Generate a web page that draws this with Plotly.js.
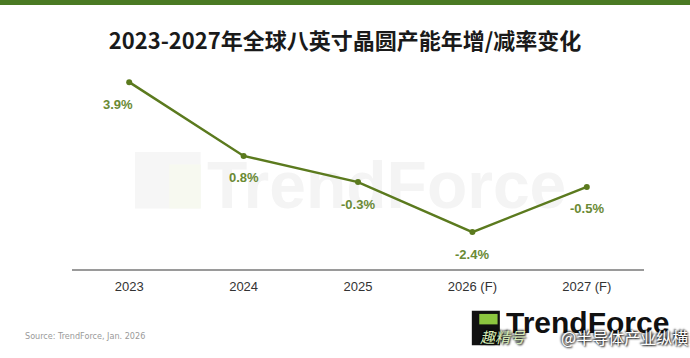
<!DOCTYPE html>
<html>
<head>
<meta charset="utf-8">
<script src="https://cdn.plot.ly/plotly-3.0.1.min.js"></script>
<style>html,body{margin:0;padding:0;background:#fff;}#chart{width:690px;height:358px;}</style>
</head>
<body>
<div id="chart"></div>
<script>
const categories = ["2023", "2024", "2025", "2026 (F)", "2027 (F)"];
const growthRate = [3.9, 0.8, -0.3, -2.4, -0.5];
const labelText = ["3.9%", "0.8%", "-0.3%", "-2.4%", "-0.5%"];
const labelXShift = [-11, 0, 0, 0, 0];

const lineColor = "#5b7a1e";
const labelColor = "#6a8a34";

const trace = {
  x: categories,
  y: growthRate,
  type: "scatter",
  mode: "lines+markers",
  line: {color: lineColor, width: 2.5},
  marker: {color: lineColor, size: 6},
  hoverinfo: "skip"
};

// category index positions (string years would be read as indices otherwise)
const annotations = categories.map((c, i) => ({
  x: i, y: growthRate[i], xref: "x", yref: "y",
  text: labelText[i], showarrow: false,
  yshift: -22, xshift: labelXShift[i],
  font: {family: "Liberation Sans, Arial, sans-serif", size: 13, color: labelColor, weight: "bold"}
}));

annotations.push({
  xref: "paper", yref: "paper", x: -0.086, y: -0.32, xanchor: "left", yanchor: "middle",
  text: "Source: TrendForce, Jan. 2026", showarrow: false,
  font: {family: "Liberation Sans Narrow, DejaVu Sans Condensed, sans-serif", size: 9, color: "#9a9a9a"}
});
annotations.push({
  xref: "paper", yref: "paper", x: 0.755, y: -0.255, xanchor: "left", yanchor: "middle",
  text: "TrendForce", showarrow: false,
  font: {family: "Liberation Sans, Arial, sans-serif", size: 30, color: "#111111", weight: "bold"}
});
annotations.push({
  xref: "paper", yref: "paper", x: 0.71, y: -0.325, xanchor: "left", yanchor: "middle",
  text: "<i>趣精号</i>", showarrow: false,
  font: {family: "Noto Sans CJK SC, sans-serif", size: 15, color: "#d8ecb8", shadow: "1px 1px 2px #000, -1px -1px 2px #000"}
});
annotations.push({
  xref: "paper", yref: "paper", x: 1.08, y: -0.325, xanchor: "right", yanchor: "middle",
  text: "@半导体产业纵横", showarrow: false,
  font: {family: "Noto Sans CJK SC, sans-serif", size: 16, color: "#ffffff", shadow: "1px 1px 2px #000, -1px -1px 2px #000"}
});

const shapes = [
  {type: "rect", xref: "paper", yref: "paper", x0: -0.2, x1: 1.2, y0: 1.263, y1: 1.3,
   fillcolor: "#4a7a23", line: {width: 0}, layer: "below"},
  {type: "rect", xref: "paper", yref: "paper", x0: 0.11, x1: 0.225, y0: 0.29, y1: 0.56,
   fillcolor: "#f6f6f6", line: {width: 0}, layer: "below"},
  {type: "rect", xref: "paper", yref: "paper", x0: 0.17, x1: 0.225, y0: 0.29, y1: 0.5,
   fillcolor: "#f7f9f0", line: {width: 0}, layer: "below"},
  {type: "rect", xref: "paper", yref: "paper", x0: 0.25, x1: 0.85, y0: 0.28, y1: 0.58,
   fillcolor: "rgba(0,0,0,0)", line: {width: 0}, layer: "below",
   label: {text: "<b>TrendForce</b>", font: {family: "Liberation Sans, Arial, sans-serif", size: 66, color: "#f4f4f4"}, textposition: "middle center"}},
  {type: "rect", xref: "paper", yref: "paper", x0: 0.699, x1: 0.748, y0: -0.365, y1: -0.2,
   fillcolor: "#111111", line: {width: 0}},
  {type: "rect", xref: "paper", yref: "paper", x0: 0.712, x1: 0.744, y0: -0.265, y1: -0.215,
   fillcolor: "#8cc63f", line: {width: 0}}
];

const layout = {
  width: 690, height: 358,
  margin: {l: 72, r: 46, t: 60, b: 89},
  paper_bgcolor: "#ffffff", plot_bgcolor: "#ffffff",
  showlegend: false,
  title: {
    text: "2023-2027年全球八英寸晶圆产能年增/减率变化",
    x: 0.5, xanchor: "center", y: 0.885, yanchor: "middle",
    font: {family: "Noto Sans CJK SC, sans-serif", size: 22, color: "#1a1a1a", weight: "bold"}
  },
  xaxis: {
    type: "category", range: [-0.5, 4.5],
    showgrid: false, zeroline: false,
    showline: true, linecolor: "#9a9a9a", linewidth: 2,
    ticks: "", ticklabelstandoff: 4,
    tickfont: {family: "Liberation Sans, Arial, sans-serif", size: 13, color: "#333333"},
    fixedrange: true
  },
  yaxis: {
    range: [-3.95, 4.83],
    showgrid: false, zeroline: false, showline: false, showticklabels: false, ticks: "",
    fixedrange: true
  },
  annotations: annotations,
  shapes: shapes
};

Plotly.newPlot("chart", [trace], layout, {displayModeBar: false, staticPlot: true});
</script>
</body>
</html>
